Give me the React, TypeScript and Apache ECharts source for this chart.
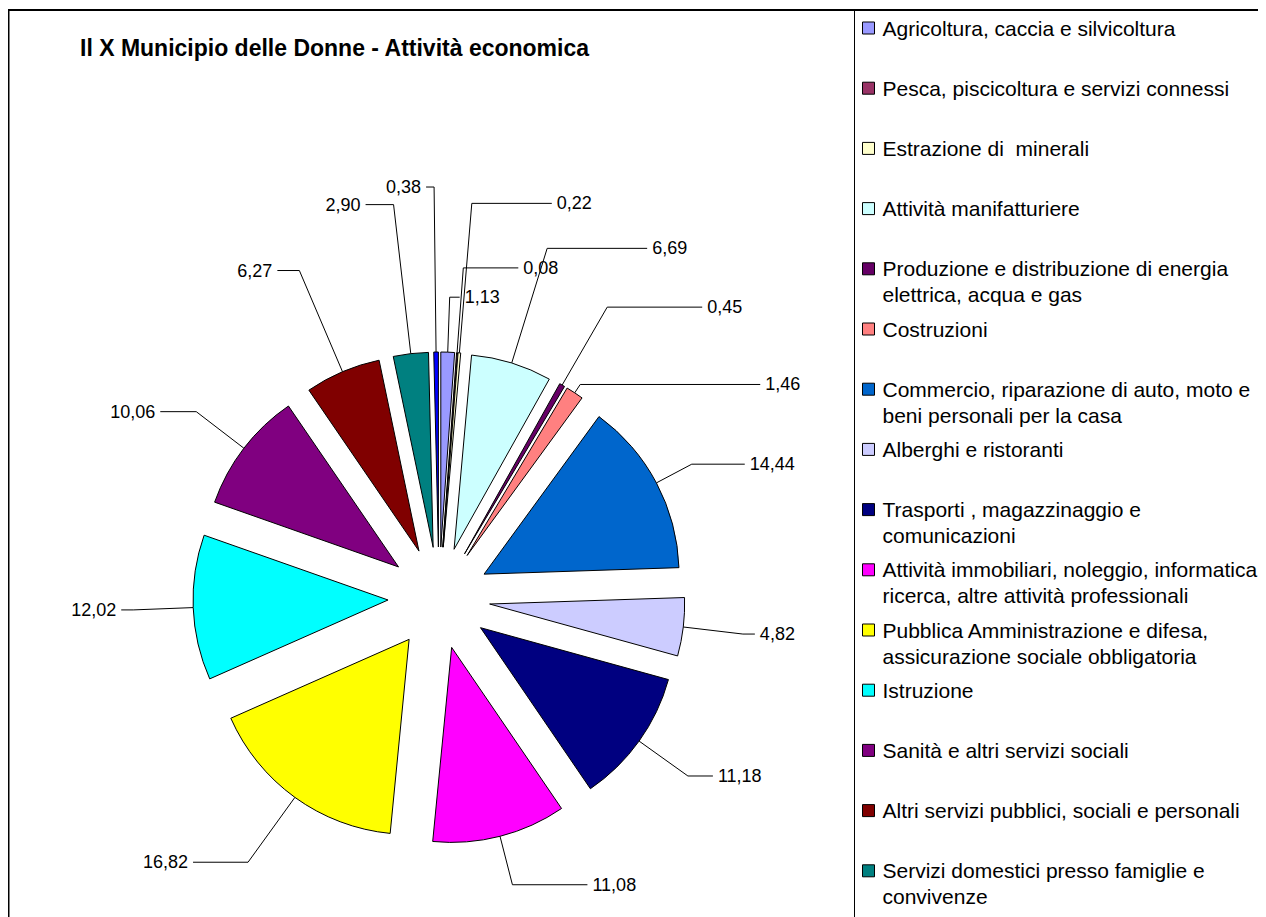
import React, { useEffect, useRef } from 'react';
import * as echarts from 'echarts';

const TITLE = 'Il X Municipio delle Donne - Attività economica';

const categories = [
  'Agricoltura, caccia e silvicoltura',
  'Pesca, piscicoltura e servizi connessi',
  'Estrazione di  minerali',
  'Attività manifatturiere',
  'Produzione e distribuzione di energia\nelettrica, acqua e gas',
  'Costruzioni',
  'Commercio, riparazione di auto, moto e\nbeni personali per la casa',
  'Alberghi e ristoranti',
  'Trasporti , magazzinaggio e\ncomunicazioni',
  'Attività immobiliari, noleggio, informatica,\nricerca, altre attività professionali',
  'Pubblica Amministrazione e difesa,\nassicurazione sociale obbligatoria',
  'Istruzione',
  'Sanità e altri servizi sociali',
  'Altri servizi pubblici, sociali e personali',
  'Servizi domestici presso famiglie e\nconvivenze',
  'Organizzazioni ed organismi extraterritoriali',
];

const values = [1.13, 0.08, 0.22, 6.69, 0.45, 1.46, 14.44, 4.82, 11.18, 11.08, 16.82, 12.02, 10.06, 6.27, 2.9, 0.38];

const colors = [
  '#9999FF', '#993366', '#FFFFCC', '#CCFFFF', '#660066', '#FF8080', '#0066CC', '#CCCCFF',
  '#000080', '#FF00FF', '#FFFF00', '#00FFFF', '#800080', '#800000', '#008080', '#0000FF',
];

// leader-line styling per slice (first radial segment, then horizontal segment)
const leaderLen = [55, 85, 150, 120, 90, 10, 40, 60, 60, 50, 80, 60, 60, 110, 150, 165];
const leaderLen2 = [10, 55, 80, 100, 95, 180, 53, 12, 25, 75, 55, 12, 36, 22, 28, 8];

// legend shows the entries visible in the (cropped) original
const legendCount = 15;

const FONT = '"Liberation Sans", Arial, sans-serif';

export default function App() {
  const ref = useRef<HTMLDivElement>(null);

  useEffect(() => {
    if (!ref.current) return;
    const chart = echarts.init(ref.current, null, { renderer: 'svg' });
    const W = 1258;
    const H = 909;
    const option: any = {
      animation: false,
      backgroundColor: '#ffffff',
      title: {
        text: TITLE,
        left: 72,
        top: 28,
        padding: 0,
        textStyle: { fontFamily: FONT, fontSize: 23, fontWeight: 'bold', color: '#000' },
      },
      legend: {
        orient: 'vertical',
        left: 854,
        top: -19,
        padding: 0,
        data: categories.slice(0, legendCount),
        icon: 'rect',
        itemWidth: 12,
        itemHeight: 12,
        itemGap: -17.8,
        selectedMode: false,
        itemStyle: { borderColor: '#000', borderWidth: 1 },
        textStyle: { fontFamily: FONT, fontSize: 21, lineHeight: 26, color: '#000', padding: [0, 0, 0, 3] },
        formatter: (name: string) => {
          const l = name.split('\n');
          return '\n' + l[0] + '\n' + (l[1] !== undefined ? l[1] : ' ');
        },
      },
      graphic: [
        { type: 'line', silent: true, shape: { x1: 0, y1: 2, x2: W, y2: 2 }, style: { stroke: '#000', lineWidth: 2 } },
        { type: 'line', silent: true, shape: { x1: 0.75, y1: 1, x2: 0.75, y2: H }, style: { stroke: '#000', lineWidth: 1.5 } },
        { type: 'line', silent: true, shape: { x1: 846.5, y1: 1, x2: 846.5, y2: H }, style: { stroke: '#000', lineWidth: 1 } },
      ],
      series: [
        {
          type: 'pie',
          center: [431, 590],
          radius: 195,
          startAngle: 90,
          clockwise: true,
          selectedMode: 'multiple',
          selectedOffset: 51,
          avoidLabelOverlap: false,
          minShowLabelAngle: 0,
          itemStyle: { borderColor: '#000', borderWidth: 1 },
          select: { itemStyle: { borderColor: '#000', borderWidth: 1 } },
          emphasis: { disabled: true },
          label: {
            show: true,
            position: 'outside',
            fontFamily: FONT,
            fontSize: 18,
            color: '#000',
            formatter: (p: any) => Number(p.value).toFixed(2).replace('.', ','),
          },
          labelLine: {
            show: true,
            length: 60,
            length2: 12,
            smooth: false,
            lineStyle: { color: '#000', width: 1 },
          },
          data: categories.map((name, i) => ({
            name,
            value: values[i],
            selected: true,
            itemStyle: { color: colors[i] },
            labelLine: { length: leaderLen[i], length2: leaderLen2[i] },
          })),
        },
      ],
    };
    chart.setOption(option);
    return () => chart.dispose();
  }, []);

  return <div ref={ref} style={{ width: 1258, height: 909 }} />;
}
